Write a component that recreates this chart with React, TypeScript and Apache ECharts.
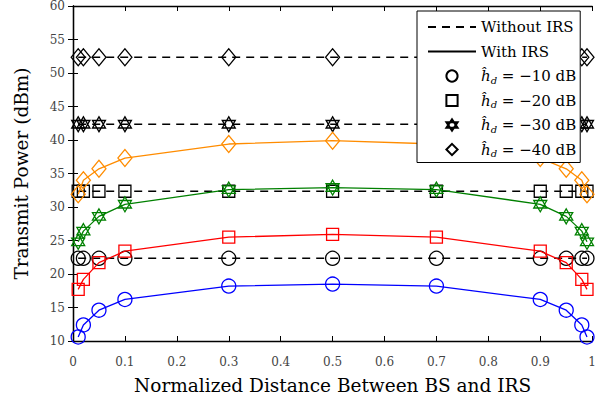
import React, { useEffect, useRef } from "react";
import * as echarts from "echarts";

const xs = [0.01, 0.02, 0.05, 0.1, 0.3, 0.5, 0.7, 0.9, 0.95, 0.98, 0.99];
const irs10 = [10.6, 12.4, 14.6, 16.2, 18.2, 18.5, 18.2, 16.2, 14.6, 12.4, 10.6];
const irs20 = [17.7, 19.2, 21.7, 23.4, 25.5, 25.9, 25.5, 23.4, 21.7, 19.2, 17.7];
const irs30 = [24.8, 26.4, 28.6, 30.4, 32.6, 32.9, 32.6, 30.4, 28.6, 26.4, 24.8];
const irs40 = [31.9, 34.0, 35.7, 37.3, 39.4, 39.9, 39.4, 37.3, 35.7, 34.0, 31.9];
const noIrs10 = [22.35, 22.35, 22.35, 22.35, 22.35, 22.35, 22.35, 22.35, 22.35, 22.35, 22.35];
const noIrs20 = [32.35, 32.35, 32.35, 32.35, 32.35, 32.35, 32.35, 32.35, 32.35, 32.35, 32.35];
const noIrs30 = [42.35, 42.35, 42.35, 42.35, 42.35, 42.35, 42.35, 42.35, 42.35, 42.35, 42.35];
const noIrs40 = [52.35, 52.35, 52.35, 52.35, 52.35, 52.35, 52.35, 52.35, 52.35, 52.35, 52.35];
const levelNames = ["ĥ_d = −10 dB", "ĥ_d = −20 dB", "ĥ_d = −30 dB", "ĥ_d = −40 dB"];
const legendNames = ["Without IRS", "With IRS", ...levelNames];

const HEX = "path://M0,-10 L8.66,5 L-8.66,5 Z M0,10 L8.66,-5 L-8.66,-5 Z";
const symbols = ["circle", "rect", HEX, "diamond"];
const symbolSizes: any[] = [14, 12, [13, 15], [14, 17]];
const colors = ["#0000ff", "#ff0000", "#008000", "#ff8c00"];
const FONT = "DejaVu Serif";

export default function App() {
  const ref = useRef<HTMLDivElement>(null);
  useEffect(() => {
    document.body.style.margin = "0";
    const chart = echarts.init(ref.current!, null, { renderer: "svg" });
    const toData = (v: number[]) => xs.map((x, i) => [x, v[i]]);
    const series: any[] = [];
    const noIrs = [noIrs10, noIrs20, noIrs30, noIrs40];
    const irs = [irs10, irs20, irs30, irs40];
    noIrs.forEach((v, k) => {
      series.push({
        name: "no-irs-" + k,
        type: "line",
        data: toData(v),
        symbol: symbols[k],
        symbolSize: symbolSizes[k],
        lineStyle: { color: "#000", width: 1.3, type: [8, 6] },
        itemStyle: { color: "rgba(0,0,0,0)", borderColor: "#000", borderWidth: 1.3 },
        z: 2,
      });
    });
    irs.forEach((v, k) => {
      series.push({
        name: "irs-" + k,
        type: "line",
        data: toData(v),
        symbol: symbols[k],
        symbolSize: symbolSizes[k],
        lineStyle: { color: colors[k], width: 1.3 },
        itemStyle: { color: "rgba(0,0,0,0)", borderColor: colors[k], borderWidth: 1.3 },
        z: 3,
      });
    });
    series.push({
      name: "Without IRS", type: "line", data: [], symbol: "circle", symbolSize: 1,
      lineStyle: { color: "#000", width: 1.3, type: [8, 6] },
      itemStyle: { color: "rgba(0,0,0,0)", borderColor: "rgba(0,0,0,0)", borderWidth: 0 },
    });
    series.push({
      name: "With IRS", type: "line", data: [], symbol: "circle", symbolSize: 1,
      lineStyle: { color: "#000", width: 1.3 },
      itemStyle: { color: "rgba(0,0,0,0)", borderColor: "rgba(0,0,0,0)", borderWidth: 0 },
    });
    levelNames.forEach((n, k) => {
      series.push({
        name: n, type: "line", data: [], symbol: symbols[k], symbolSize: symbolSizes[k],
        lineStyle: { width: 0, opacity: 0 },
        itemStyle: { color: "rgba(0,0,0,0)", borderColor: "#000", borderWidth: 1.5 },
      });
    });

    const tickLabel = { fontFamily: FONT, fontSize: 12, color: "#444" };
    chart.setOption({
      animation: false,
      textStyle: { fontFamily: FONT },
      grid: { left: 73, right: 1, top: 3, bottom: 66 },
      legend: {
        data: legendNames,
        orient: "vertical",
        left: 417,
        top: 11,
        itemWidth: 48,
        itemHeight: 14,
        itemGap: 4.5,
        padding: [6, 4, 3, 10],
        backgroundColor: "#fff",
        borderColor: "#000",
        borderWidth: 1,
        borderRadius: 0,
        selectedMode: false,
        z: 10,
        formatter: (name: string) => {
          if (name.startsWith("ĥ_d")) {
            return "{i|ĥ}{s|d}{n|" + name.slice(3) + "}";
          }
          return name;
        },
        textStyle: {
          fontFamily: FONT,
          fontSize: 15,
          color: "#000",
          lineHeight: 20,
          rich: {
            i: { fontFamily: FONT, fontSize: 15, fontStyle: "italic", color: "#000" },
            s: { fontFamily: FONT, fontSize: 10, fontStyle: "italic", color: "#000", padding: [8, 0, 0, 0] },
            n: { fontFamily: FONT, fontSize: 15, color: "#000" },
          },
        },
      },
      xAxis: [
        {
          type: "value", min: 0, max: 1, interval: 0.1,
          name: "Normalized Distance Between BS and IRS",
          nameLocation: "middle", nameGap: 35,
          nameTextStyle: { fontFamily: FONT, fontSize: 18.5, color: "#000" },
          axisLine: { show: true, lineStyle: { color: "#000", width: 1.3 } },
          axisTick: { show: true, inside: true, length: 5, lineStyle: { color: "#000" } },
          axisLabel: { ...tickLabel, margin: 15 },
          splitLine: { show: false },
        },
        {
          type: "value", min: 0, max: 1, interval: 0.1, position: "top",
          axisLine: { show: true, lineStyle: { color: "#000", width: 1.3 } },
          axisTick: { show: true, inside: true, length: 5, lineStyle: { color: "#000" } },
          axisLabel: { show: false },
          splitLine: { show: false },
        },
      ],
      yAxis: [
        {
          type: "value", min: 10, max: 60, interval: 5,
          name: "Transmit Power (dBm)",
          nameLocation: "middle", nameGap: 42,
          nameTextStyle: { fontFamily: FONT, fontSize: 18.5, color: "#000" },
          axisLine: { show: true, lineStyle: { color: "#000", width: 1.3 } },
          axisTick: { show: true, inside: true, length: 5, lineStyle: { color: "#000" } },
          axisLabel: { ...tickLabel, margin: 8 },
          splitLine: { show: false },
        },
        {
          type: "value", min: 10, max: 60, interval: 5, position: "right",
          axisLine: { show: true, lineStyle: { color: "#000", width: 1.3 } },
          axisTick: { show: true, inside: true, length: 5, lineStyle: { color: "#000" } },
          axisLabel: { show: false },
          splitLine: { show: false },
        },
      ],
      series,
    });
    return () => chart.dispose();
  }, []);
  return (
    <div
      ref={ref}
      style={{ position: "absolute", left: 0, top: 0, width: 599, height: 407, background: "#fff" }}
    />
  );
}
